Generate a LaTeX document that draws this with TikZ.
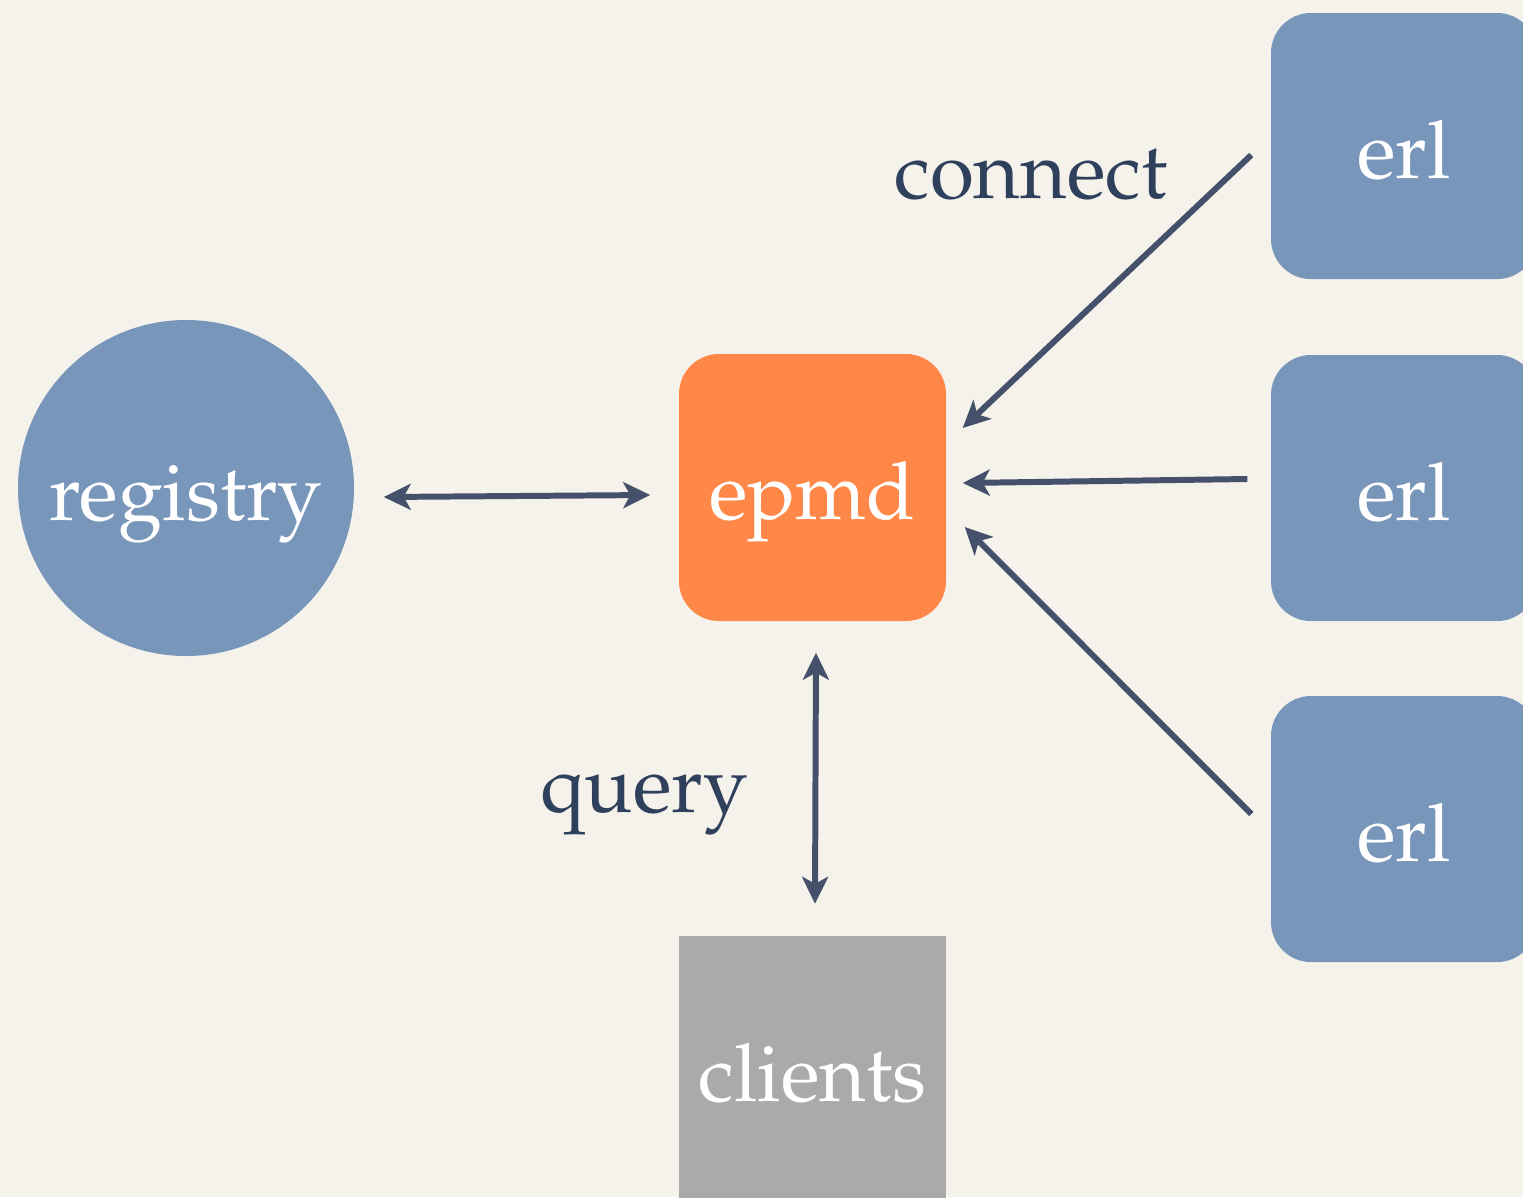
\documentclass[tikz,border=0pt]{standalone}
\usepackage[T1]{fontenc}
\usepackage{mathpazo}
\usetikzlibrary{arrows.meta}
\definecolor{fondo}{HTML}{F5F2EB}
\definecolor{azul}{HTML}{7895BA}
\definecolor{naranja}{HTML}{FF8747}
\definecolor{gris}{HTML}{AAAAAA}
\definecolor{flecha}{HTML}{45506A}
\definecolor{texto}{HTML}{2F405C}
\begin{document}
\begin{tikzpicture}
\tikzset{nodo/.style={rectangle,rounded corners=0.4cm,minimum size=2.66cm,inner sep=0pt,text height=0.64cm,text depth=0pt,fill=azul,text=white,font=\fontsize{22.8}{27}\selectfont}}
\tikzset{nodo1/.style={nodo,fill=naranja,minimum size=2.67cm}}
\tikzset{nodo2/.style={nodo,fill=gris,sharp corners,minimum size=2.67cm}}
\tikzset{nodo3/.style={circle,minimum size=3.36cm,inner sep=0pt,text height=0.64cm,text depth=0pt,fill=azul,text=white,font=\fontsize{22.8}{27}\selectfont}}
\tikzset{etiq/.style={anchor=base,inner sep=0pt,text=texto,font=\fontsize{22.8}{27}\selectfont}}
\tikzset{flec/.style={flecha,line width=1.7pt,{Stealth[length=0.27cm,width=0.26cm,inset=0.07cm]}-{Stealth[length=0.27cm,width=0.26cm,inset=0.07cm]}}}
\tikzset{flec1/.style={flec,-{Stealth[length=0.27cm,width=0.26cm,inset=0.07cm]}}}

  \fill[fondo] (0,0) rectangle (15.23,-11.97);
  \useasboundingbox (0,0) rectangle (15.23,-11.97);

  \draw (1.86,-4.88) node[nodo3] (reg) {registry};
  \draw (8.125,-4.875) node[nodo1] (ep) {epmd};
  \draw (8.125,-10.69) node[nodo2] (cl) {clients};
  \draw (14.04,-1.46) node[nodo] (e1) {erl};
  \draw (14.04,-4.88) node[nodo] (e2) {erl};
  \draw (14.04,-8.29) node[nodo] (e3) {erl};

  \draw (10.31,-1.98) node[etiq] (con) {connect};
  \draw (6.44,-8.12) node[etiq] (qu) {query};

  \draw[flec] ([xshift=0.29cm,yshift=-0.09cm]reg.east) -- ([xshift=-0.28cm,yshift=-0.075cm]ep.west);
  \draw[flec] ([xshift=0.035cm,yshift=-0.31cm]ep.south) -- ([xshift=0.025cm,yshift=0.31cm]cl.north);
  \draw[flec1] ([xshift=-0.19cm,yshift=-0.09cm]e1.west) -- ([xshift=0.16cm,yshift=0.595cm]ep.east);
  \draw[flec1] ([xshift=-0.23cm,yshift=0.09cm]e2.west) -- ([xshift=0.16cm,yshift=0.045cm]ep.east);
  \draw[flec1] ([xshift=-0.19cm,yshift=0.15cm]e3.west) -- ([xshift=0.18cm,yshift=-0.395cm]ep.east);

\end{tikzpicture}
\end{document}
